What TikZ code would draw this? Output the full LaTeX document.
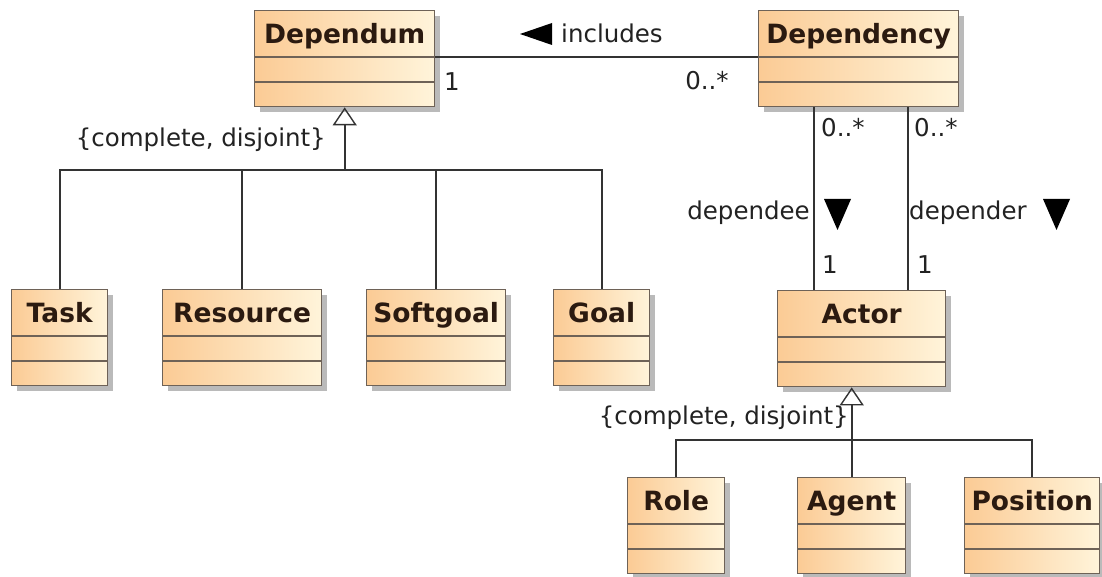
\documentclass[tikz,border=0pt]{standalone}
\usepackage{fontspec}
\setmainfont{DejaVu Sans}
\usetikzlibrary{calc,arrows.meta,shadows}

\definecolor{boxL}{HTML}{FBCB95}
\definecolor{boxR}{HTML}{FFF4DA}
\definecolor{boxEdge}{HTML}{6E6257}
\definecolor{lineC}{HTML}{333333}
\definecolor{txtC}{HTML}{222222}
\definecolor{nameC}{HTML}{2B1A10}

\tikzset{
  classbox/.style={rectangle, draw=boxEdge, line width=1.4pt,
    left color=boxL, right color=boxR, minimum height=96pt, inner sep=0pt,
    drop shadow={shadow xshift=5pt, shadow yshift=-5pt, fill=black!45, opacity=0.6}},
  classname/.style={inner sep=0pt, text=nameC, font=\fontsize{26.5}{31}\selectfont\bfseries},
  compline/.style={draw=boxEdge, line width=1.2pt},
  conn/.style={draw=lineC, line width=1.7pt},
  gen/.style={conn, -{Triangle[open, length=18pt, width=24pt, line width=1.4pt]}},
  lbl/.style={inner sep=0pt, text=txtC, font=\fontsize{24.5}{29}\selectfont},
  navtri/.style={fill=black}
}

% UML class box: name, left x, top y, width, title
\newcommand{\umlclass}[5]{%
  \node[classbox, minimum width=#4pt, anchor=north west] (#1) at (#2,#3) {};
  \node[classname, anchor=base] (#1-t) at ($(#1.north)+(0,33.5)$) {#5};
  \draw[compline] ($(#1.north west)+(0,47)$) -- ($(#1.north east)+(0,47)$);
  \draw[compline] ($(#1.north west)+(0,72)$) -- ($(#1.north east)+(0,72)$);
}

\begin{document}
\begin{tikzpicture}[x=1pt, y=-1pt]
  \useasboundingbox[fill=white] (0,0) rectangle (1102,577);

  % classes
  \umlclass{dependum}{254}{10}{180}{Dependum}
  \umlclass{dependency}{758}{10}{200}{Dependency}
  \umlclass{task}{11}{289}{96}{Task}
  \umlclass{resource}{162}{289}{159}{Resource}
  \umlclass{softgoal}{366}{289}{139}{Softgoal}
  \umlclass{goal}{553}{289}{96}{Goal}
  \umlclass{actor}{777}{290}{168}{Actor}
  \umlclass{role}{627}{477}{97}{Role}
  \umlclass{agent}{797}{477}{108}{Agent}
  \umlclass{position}{964}{477}{135}{Position}

  % association Dependum -- Dependency
  \draw[conn] ($(dependum.north east)+(0,47)$) -- ($(dependency.north west)+(0,47)$);
  \fill[navtri] (520,34) -- (552,23) -- (552,45) -- cycle;
  \node[lbl, anchor=west] (incl) at (561,33) {includes};
  \node[lbl, anchor=west] (m1) at (444,82) {1};
  \node[lbl] (m2) at (707,81) {0..*};

  % associations Dependency -- Actor
  \coordinate (dee) at ($(dependency.south west)+(56,0)$);
  \coordinate (der) at ($(dependency.south west)+(150,0)$);
  \draw[conn] (dee) -- (dee |- actor.north);
  \draw[conn] (der) -- (der |- actor.north);
  \node[lbl, anchor=west] (m3) at (821,128) {0..*};
  \node[lbl, anchor=west] (m4) at (914,128) {0..*};
  \node[lbl, anchor=east] (deelbl) at (810,213) {dependee};
  \fill[navtri] (824,199) -- (851,199) -- (837.5,230) -- cycle;
  \node[lbl, anchor=west] (derlbl) at (909,213) {depender};
  \fill[navtri] (1043,199) -- (1070,199) -- (1056.5,230) -- cycle;
  \node[lbl, anchor=west] (m5) at (822,265) {1};
  \node[lbl, anchor=west] (m6) at (917,265) {1};

  % generalization of Dependum
  \coordinate (j1) at (dependum.south |- 0,170);
  \draw[gen] (j1) -- (dependum.south);
  \draw[conn] (task.north) -- (task.north |- j1) -- (goal.north |- j1) -- (goal.north);
  \draw[conn] (resource.north) -- (resource.north |- j1);
  \draw[conn] (softgoal.north) -- (softgoal.north |- j1);
  \node[lbl, anchor=east] (c1) at (326,140) {\{complete, disjoint\}};

  % generalization of Actor
  \coordinate (j2) at (agent.north |- 0,440);
  \draw[gen] (agent.north) -- (agent.north |- actor.south);
  \draw[conn] (role.north) -- (role.north |- j2) -- (position.north |- j2) -- (position.north);
  \node[lbl, anchor=east] (c2) at (849,418) {\{complete, disjoint\}};
\end{tikzpicture}
\end{document}
